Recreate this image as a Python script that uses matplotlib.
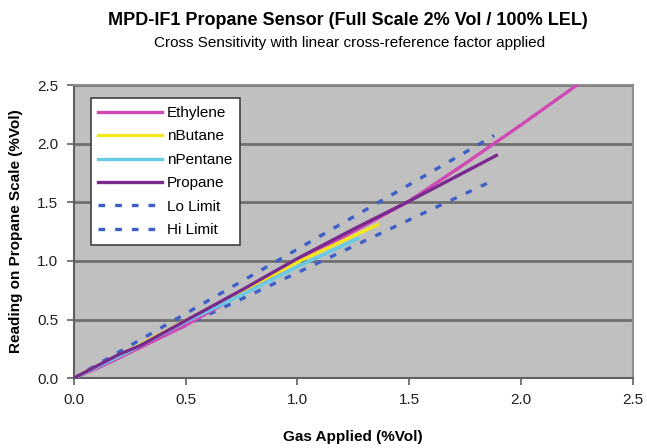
import matplotlib
matplotlib.use("Agg")
import matplotlib.pyplot as plt

# Data
eth_x = [0, 0.1, 0.2, 0.5, 0.75, 1.0, 1.25, 1.5, 1.75, 2.0, 2.25]
eth_y = [0, 0.08, 0.17, 0.45, 0.72, 1.0, 1.25, 1.51, 1.83, 2.16, 2.5]

but_x = [0, 0.25, 0.5, 0.75, 1.0, 1.36]
but_y = [0, 0.24, 0.49, 0.74, 0.99, 1.31]

pen_x = [0, 0.25, 0.5, 0.75, 1.0, 1.27]
pen_y = [0, 0.23, 0.48, 0.71, 0.95, 1.19]

pro_x = [0, 0.1, 0.2, 0.3, 0.5, 0.75, 1.0, 1.25, 1.5, 1.75, 1.89]
pro_y = [0, 0.1, 0.2, 0.28, 0.49, 0.75, 1.02, 1.27, 1.51, 1.76, 1.90]

lim_x = [0, 0.5, 1.0, 1.5, 1.88]
lo_y = [0, 0.45, 0.90, 1.35, 1.69]
hi_y = [0, 0.55, 1.10, 1.65, 2.07]

x_ticks = [0.0, 0.5, 1.0, 1.5, 2.0, 2.5]
y_ticks = [0.0, 0.5, 1.0, 1.5, 2.0, 2.5]

plt.rcParams['font.family'] = ['Liberation Sans', 'DejaVu Sans']

fig = plt.figure(figsize=(6.47, 4.48), dpi=100)
ax = fig.add_axes([0.114, 0.156, 0.864, 0.654])
ax.set_facecolor('#C0C0C0')

lw = 2.4
ax.plot(eth_x, eth_y, color='#D048B4', lw=lw, label='Ethylene', zorder=3)
ax.plot(but_x, but_y, color='#F4E81C', lw=lw, label='nButane', zorder=3)
ax.plot(pen_x, pen_y, color='#66CCE6', lw=lw, label='nPentane', zorder=3)
ax.plot(pro_x, pro_y, color='#7A2A8E', lw=lw, label='Propane', zorder=3)
ax.plot(lim_x, lo_y, color='#3F5FC8', lw=2.4, ls=(0, (2.0, 3.0)), label='Lo Limit', zorder=2)
ax.plot(lim_x, hi_y, color='#3F5FC8', lw=2.4, ls=(0, (2.0, 3.0)), label='Hi Limit', zorder=2)

ax.set_xlim(0, 2.5)
ax.set_ylim(0, 2.5)
ax.set_xticks(x_ticks)
ax.set_yticks(y_ticks)
ax.set_xticklabels([f"{t:.1f}" for t in x_ticks], fontsize=11, color='#202020')
ax.set_yticklabels([f"{t:.1f}" for t in y_ticks], fontsize=11, color='#202020')
ax.tick_params(direction='out', length=5, width=1.2, color='#606060', pad=6)
ax.yaxis.grid(True, color='#707070', lw=2.0)
ax.set_axisbelow(True)
for s in ['top', 'right']:
    ax.spines[s].set_color('#909090')
    ax.spines[s].set_linewidth(1.5)
for s in ['left', 'bottom']:
    ax.spines[s].set_color('#606060')
    ax.spines[s].set_linewidth(1.5)

ax.set_xlabel('Gas Applied (%Vol)', fontsize=11, fontweight='bold', labelpad=16)
ax.set_ylabel('Reading on Propane Scale (%Vol)', fontsize=11, fontweight='bold', labelpad=10)

leg = ax.legend(loc='upper left', bbox_to_anchor=(0.03, 0.955), fontsize=11,
                frameon=True, fancybox=False, edgecolor='#404040', facecolor='white',
                framealpha=1, handlelength=4.2, handletextpad=0.3, labelspacing=0.62,
                borderpad=0.5, borderaxespad=0)
leg.get_frame().set_linewidth(1.2)

fig.text(0.537, 0.955, 'MPD-IF1 Propane Sensor (Full Scale 2% Vol / 100% LEL)',
         ha='center', va='center', fontsize=13, fontweight='bold')
fig.text(0.54, 0.903, 'Cross Sensitivity with linear cross-reference factor applied',
         ha='center', va='center', fontsize=11)

fig.savefig('out.png', dpi=100)
